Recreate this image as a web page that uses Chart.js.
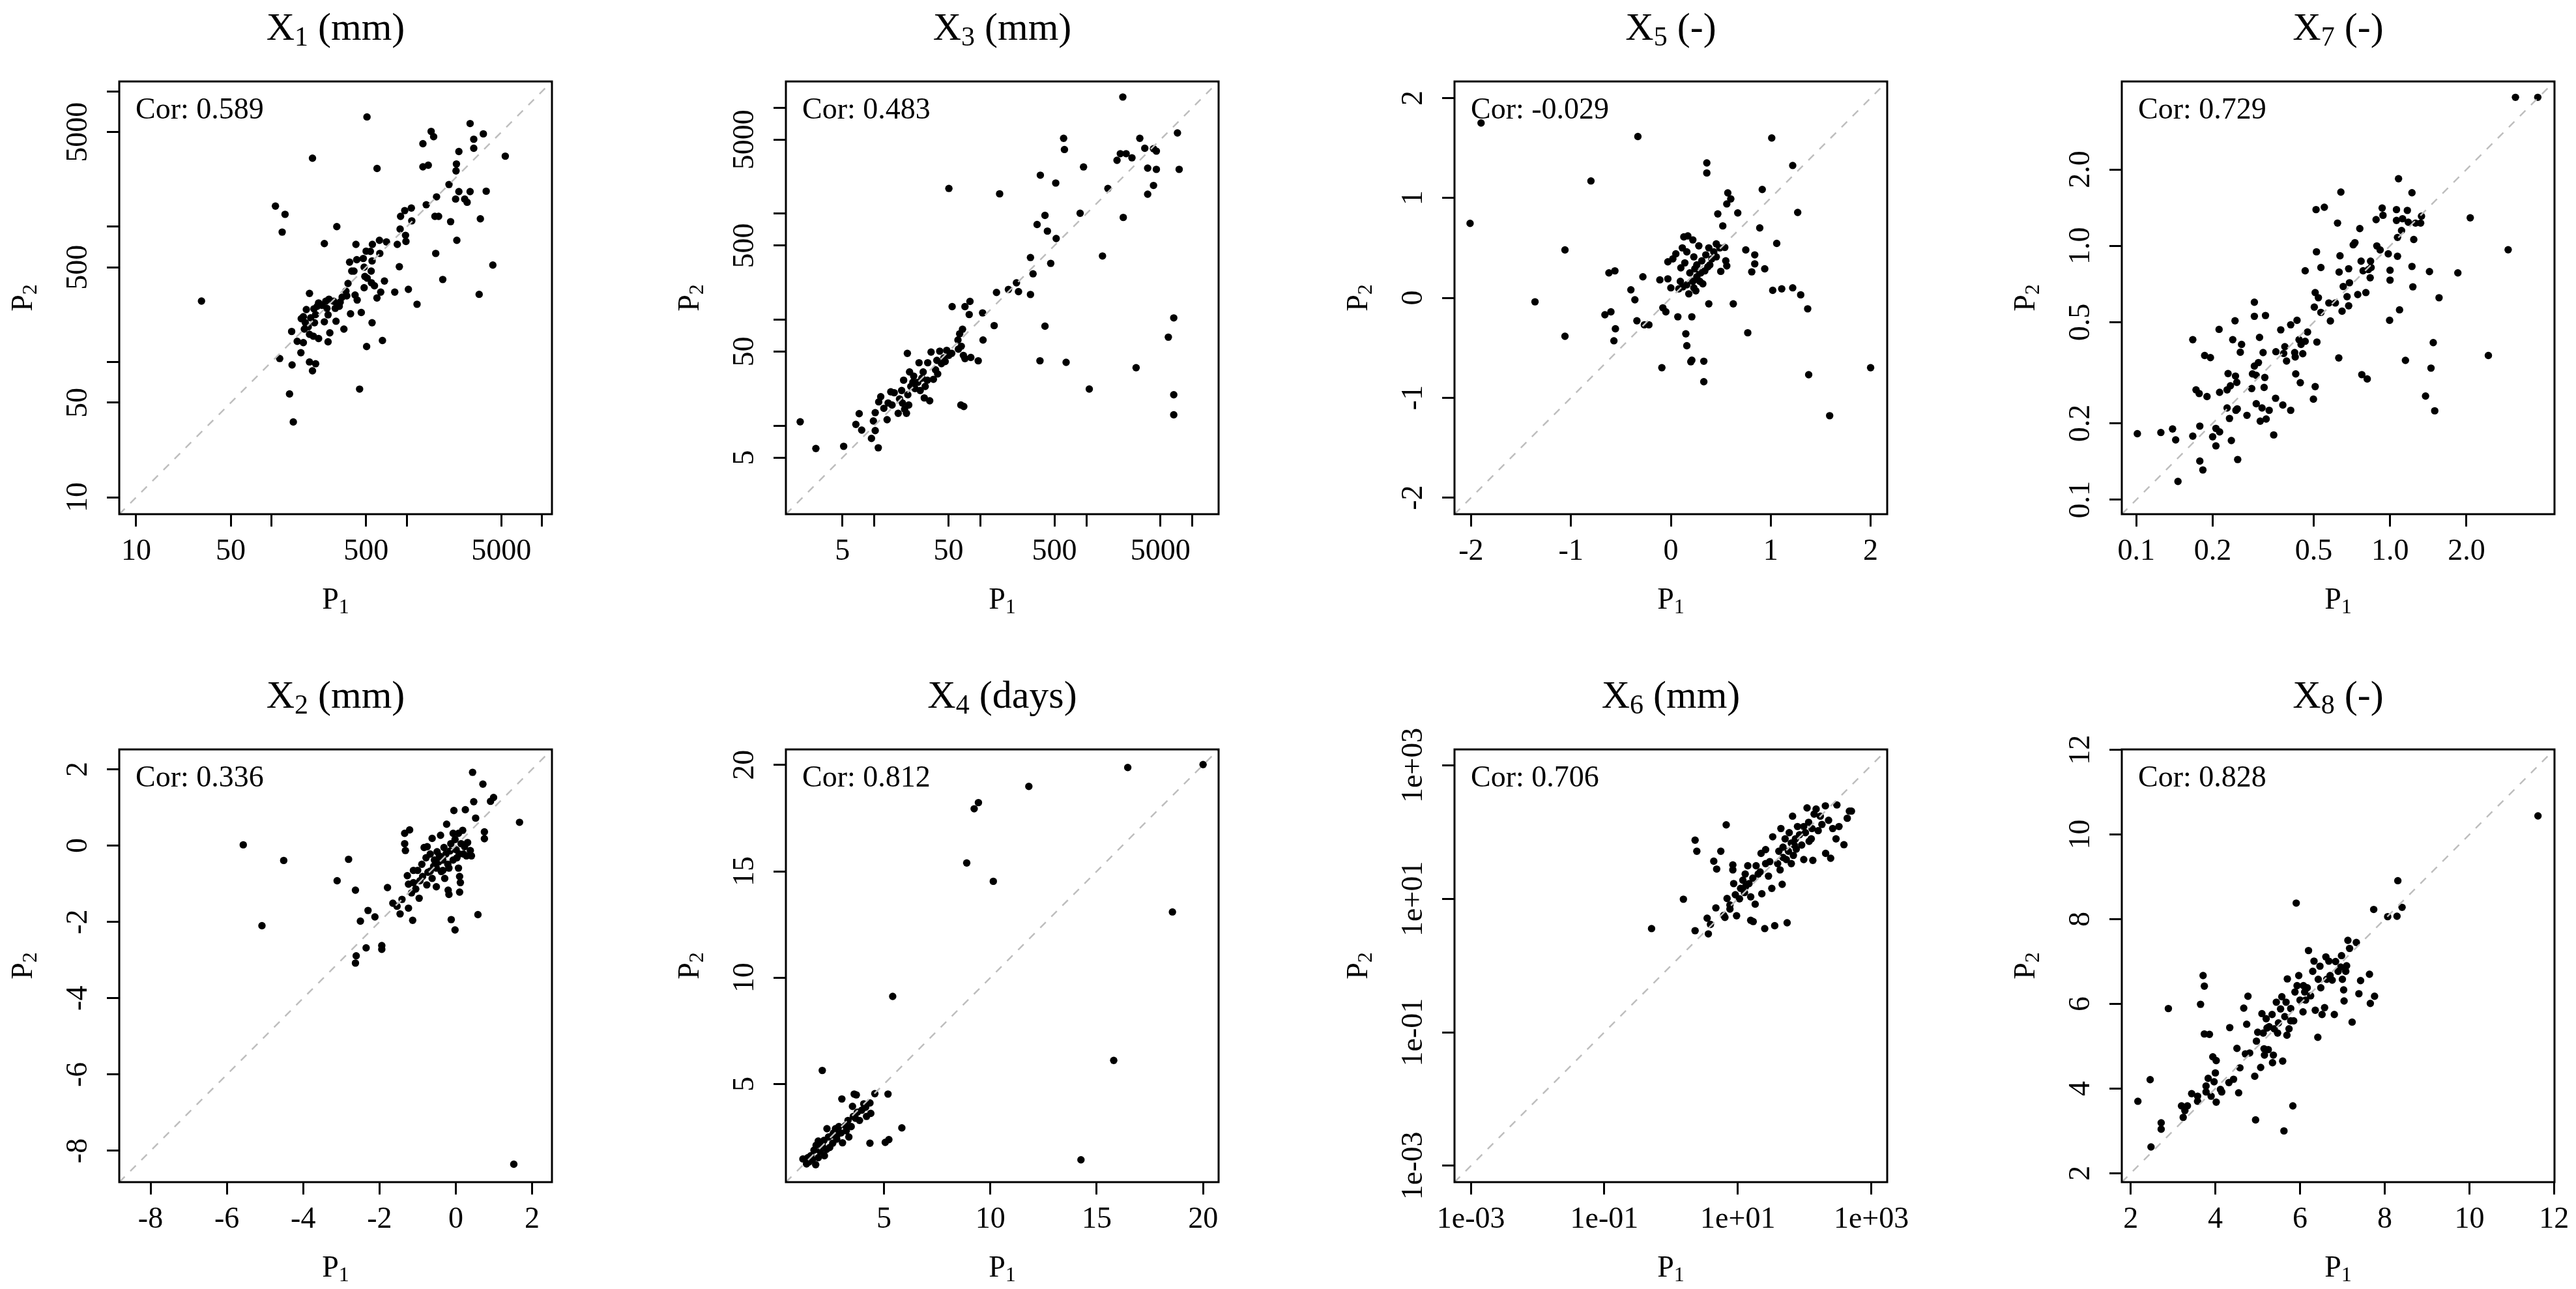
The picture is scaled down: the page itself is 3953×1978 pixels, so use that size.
<!DOCTYPE html>
<html>
<head>
<meta charset="utf-8">
<title>P1 vs P2</title>
<script src="https://cdn.jsdelivr.net/npm/chart.js@4.4.1/dist/chart.umd.min.js"></script>
<style>
  html, body { margin: 0; padding: 0; background: #fff; overflow: hidden; }
  #page { position: relative; width: 3953px; height: 1978px; background: #fff; }
  #page canvas { position: absolute; }
</style>
</head>
<body>
<div id="page"></div>
<script>
// X1 (mm)
const x1P1 = [30.4, 508, 201, 603, 107, 126, 120, 304, 246, 1514,
  1580, 1316, 2938, 3680, 3126, 3126, 2427, 5346, 1316, 1442,
  2328, 2312, 2051, 1660, 2427, 2938, 3864, 2296, 2680, 2793,
  1393, 1081, 966, 900, 1614, 1719, 3499, 1089, 2109, 893,
  979, 986, 2344, 1637, 851, 628, 708, 557, 538, 501,
  421, 632, 881, 4325, 1845, 3427, 1028, 815, 1191, 684,
  642, 602, 554, 378, 427, 477, 392, 407, 484, 546,
  490, 510, 548, 484, 577, 368, 355, 415, 430, 333,
  306, 288, 266, 252, 236, 223, 218, 206, 191, 181,
  172, 166, 178, 208, 195, 212, 246, 262, 300, 317,
  343, 384, 461, 554, 270, 223, 204, 191, 175, 172,
  155, 141, 165, 262, 661, 505, 115, 142, 191, 212,
  201, 136, 145, 448, 187, 257, 322, 296, 360];
const x1P2 = [282, 6470, 3206, 2692, 1419, 1233, 912, 1000, 750, 5058,
  4624, 4105, 5780, 4850, 4426, 3793, 3589, 3319, 2767, 2845,
  2905, 2582, 2049, 1660, 1817, 1817, 1828, 1600, 1600, 1514,
  1452, 1372, 1315, 1192, 1192, 1192, 1143, 1104, 1089, 959,
  863, 777, 793, 634, 740, 793, 771, 740, 656, 659,
  740, 634, 506, 520, 407, 316, 344, 328, 267, 396,
  328, 297, 558, 547, 570, 582, 469, 469, 502, 469,
  428, 416, 385, 354, 366, 380, 334, 312, 287, 301,
  267, 281, 291, 281, 262, 273, 258, 247, 321, 244,
  216, 209, 195, 195, 212, 224, 198, 223, 200, 258,
  175, 227, 232, 195, 164, 149, 155, 160, 175, 139,
  142, 168, 117, 141, 144, 130, 106, 95, 100, 97,
  86, 58, 36, 63, 182, 249, 277, 249, 308];
const x1Range = [7.5, 11830];
const x1Ticks = [10, 50, 100, 500, 1000, 5000, 10000];
const x1Labels = ["10", "50", "", "500", "", "5000", ""];

// X3 (mm)
const x3P1 = [2.0, 2.81, 5.14, 10.9, 9.4, 6.7, 7.2, 7.6, 9.8, 10.2,
  10.2, 11.0, 11.5, 13.2, 12.3, 14.3, 14.7, 16.8, 17.3, 18.1,
  18.9, 20.5, 19.3, 21.1, 20.7, 22.1, 21.5, 23.5, 24.2, 25.7,
  27.1, 28.1, 26.4, 29.6, 33.3, 30.2, 31.6, 31.9, 34.3, 36.1,
  37.8, 38.9, 41.4, 43.0, 45.3, 48.2, 50.5, 53.7, 50.5, 54.2,
  61.5, 63.8, 67.9, 66.1, 69.2, 65.5, 69.8, 71.6, 79.8, 78.5,
  81.3, 95.5, 105, 106, 135, 142, 152, 184, 219, 229,
  297, 297, 314, 343, 368, 407, 429, 461, 407, 365,
  519, 514, 610, 621, 644, 873, 940, 1065, 1419, 1596,
  1945, 2090, 2371, 2206, 2228, 2690, 2944, 3190, 3556, 3785,
  3785, 4297, 4297, 4571, 4571, 5930, 6668, 6668, 6668, 7228,
  7500, 15.4, 18.4, 23.1, 28.9, 39.6, 46.6, 62.1, 71.6, 13.5, 20.1];
const x3P2 = [10.9, 6.1, 6.4, 6.2, 7.6, 10.3, 13.0, 9.1, 11.1, 9.0,
  13.3, 16.8, 18.8, 11.4, 14.6, 20.9, 15.7, 13.1, 17.9, 21.5,
  26.9, 48.2, 14.3, 15.7, 19.6, 23.5, 32.2, 29.4, 22.4, 25.7,
  21.5, 28.1, 39.3, 18.3, 17.2, 23.5, 26.9, 39.3, 49.5, 27.4,
  33.7, 41.4, 50.5, 38.5, 43.6, 51.4, 46.1, 48.2, 1730, 133,
  64.3, 73.6, 81.3, 56.2, 46.1, 15.7, 15.2, 133, 149, 112,
  44.1, 41.0, 116, 64.3, 88, 181, 1540, 193, 223, 184,
  386, 173, 271, 791, 2307, 964, 685, 340, 87, 41,
  583, 1945, 5140, 4030, 39.6, 1009, 2760, 22.2, 399, 1730,
  3190, 3680, 3680, 12600, 922, 3365, 35.3, 5140, 4140, 2690,
  1528, 1846, 4100, 3893, 2618, 68.5, 104, 19.6, 12.7, 5780,
  2618, 20.5, 16.4, 25.7, 32.2, 30.8, 40.3, 52.8, 43.0, 16.4, 13.1];
const x3Range = [1.466, 17660];
const x3Ticks = [5, 10, 50, 100, 500, 1000, 5000, 10000];
const x3Labels = ["5", "", "50", "", "500", "", "5000", ""];

// X5 (-)
const x5P1 = [-2.01, -1.90, -1.36, -1.06, -1.06, -0.80, -0.66, -0.62, -0.60, -0.56,
  -0.555, -0.57, -0.40, -0.36, -0.34, -0.33, -0.28, -0.265, -0.22, -0.11,
  -0.09, -0.08, -0.05, -0.03, -0.03, 0.0, 0.02, 0.05, 0.07, 0.08,
  0.10, 0.12, 0.13, 0.14, 0.15, 0.16, 0.16, 0.17, 0.18, 0.19,
  0.20, 0.21, 0.21, 0.22, 0.22, 0.23, 0.24, 0.25, 0.26, 0.28,
  0.29, 0.30, 0.31, 0.32, 0.33, 0.33, 0.34, 0.35, 0.36, 0.36,
  0.37, 0.38, 0.38, 0.41, 0.43, 0.455, 0.47, 0.49, 0.50, 0.52,
  0.54, 0.55, 0.56, 0.56, 0.57, 0.60, 0.625, 0.67, 0.75, 0.77,
  0.81, 0.84, 0.84, 0.89, 0.915, 0.94, 1.01, 1.02, 1.06, 1.11,
  1.22, 1.22, 1.27, 1.30, 1.37, 1.38, 1.59, 2.00, 0.095, 0.16,
  0.23, 0.29, 0.39, 0.455, 0.26, 0.115];
const x5P2 = [0.745, 1.75, -0.04, 0.48, -0.385, 1.17, -0.17, 0.25, -0.14, 0.27,
  -0.31, -0.43, 0.08, -0.02, -0.23, 1.615, 0.21, -0.27, -0.27, 0.18,
  -0.70, -0.10, -0.14, 0.36, 0.19, 0.10, 0.39, 0.44, -0.19, 0.09,
  0.30, 0.11, 0.61, 0.35, -0.36, -0.48, 0.46, 0.62, 0.04, 0.25,
  -0.64, -0.625, -0.19, 0.165, 0.58, 0.41, 0.29, 0.07, 0.33, 0.52,
  0.165, 0.25, 0.37, 0.14, -0.635, -0.84, 0.27, 0.43, 1.35, 1.25,
  0.31, 0.50, -0.06, 0.39, 0.46, 0.54, 0.84, 0.50, 0.265, 0.72,
  0.505, 0.37, 0.32, 0.94, 1.05, 0.99, -0.06, 0.85, 0.48, -0.35,
  0.26, 0.34, 0.43, 0.70, 1.085, 0.29, 1.60, 0.075, 0.545, 0.09,
  1.325, 0.10, 0.855, 0.03, -0.11, -0.77, -1.18, -0.70, 0.165, 0.13,
  0.10, 0.25, 0.33, 0.41, 0.21, 0.50];
const x5Range = [-2.166, 2.166];
const x5Ticks = [-2, -1, 0, 1, 2];
const x5Labels = ["-2", "-1", "0", "1", "2"];

// X7 (-)
const x7P1 = [0.101, 0.125, 0.139, 0.143, 0.146, 0.167, 0.167, 0.172, 0.177, 0.178,
  0.178, 0.183, 0.186, 0.196, 0.190, 0.200, 0.206, 0.206, 0.213, 0.212,
  0.213, 0.228, 0.230, 0.228, 0.233, 0.235, 0.237, 0.240, 0.245, 0.246,
  0.249, 0.247, 0.250, 0.251, 0.257, 0.260, 0.273, 0.285, 0.287, 0.292,
  0.292, 0.292, 0.297, 0.297, 0.303, 0.306, 0.308, 0.313, 0.316, 0.319,
  0.321, 0.323, 0.325, 0.334, 0.348, 0.354, 0.355, 0.371, 0.378, 0.381,
  0.385, 0.391, 0.406, 0.406, 0.421, 0.423, 0.425, 0.430, 0.438, 0.443,
  0.446, 0.453, 0.463, 0.463, 0.473, 0.499, 0.507, 0.503, 0.507, 0.511,
  0.515, 0.513, 0.522, 0.534, 0.534, 0.551, 0.574, 0.582, 0.609, 0.621,
  0.628, 0.630, 0.635, 0.640, 0.647, 0.654, 0.677, 0.687, 0.687, 0.692,
  0.716, 0.727, 0.746, 0.760, 0.769, 0.774, 0.783, 0.803, 0.813, 0.822,
  0.835, 0.838, 0.842, 0.881, 0.887, 0.914, 0.931, 0.938, 0.984, 1.0,
  1.0, 0.996, 1.06, 1.06, 1.07, 1.07, 1.08, 1.09, 1.11, 1.12,
  1.15, 1.17, 1.18, 1.22, 1.22, 1.23, 1.24, 1.26, 1.32, 1.33,
  1.38, 1.43, 1.45, 1.48, 1.50, 1.56, 1.85, 2.07, 2.44, 2.92, 3.12, 3.82];
const x7P2 = [0.182, 0.184, 0.190, 0.172, 0.118, 0.178, 0.427, 0.271, 0.262, 0.195,
  0.142, 0.131, 0.370, 0.363, 0.255, 0.177, 0.191, 0.163, 0.185, 0.469,
  0.265, 0.271, 0.314, 0.230, 0.209, 0.281, 0.171, 0.427, 0.507, 0.307,
  0.290, 0.225, 0.228, 0.144, 0.381, 0.409, 0.215, 0.274, 0.313, 0.600,
  0.528, 0.336, 0.309, 0.239, 0.347, 0.436, 0.204, 0.230, 0.380, 0.277,
  0.303, 0.532, 0.208, 0.225, 0.180, 0.251, 0.383, 0.467, 0.236, 0.377,
  0.401, 0.352, 0.489, 0.225, 0.380, 0.365, 0.313, 0.509, 0.427, 0.289,
  0.409, 0.376, 0.421, 0.798, 0.458, 0.249, 0.279, 0.574, 0.655, 1.39,
  0.418, 0.948, 0.625, 0.822, 0.547, 1.42, 0.596, 0.506, 0.596, 1.23,
  0.362, 0.789, 0.914, 1.63, 0.553, 0.692, 0.631, 0.581, 0.813, 0.716,
  1.01, 1.03, 0.643, 1.17, 0.871, 0.311, 0.798, 0.655, 0.299, 0.807,
  0.749, 0.871, 0.822, 1.27, 1.00, 0.964, 1.41, 1.32, 0.931, 0.802,
  0.733, 0.509, 1.26, 1.39, 0.910, 1.08, 1.84, 0.560, 1.15, 1.28,
  0.354, 1.38, 1.24, 1.62, 0.830, 0.690, 1.06, 1.23, 1.23, 1.31,
  0.256, 0.792, 0.330, 0.416, 0.224, 0.625, 0.783, 1.29, 0.370, 0.966, 3.85, 3.85];
const x7Range = [0.0877, 4.446];
const x7Ticks = [0.1, 0.2, 0.5, 1, 2];
const x7Labels = ["0.1", "0.2", "0.5", "1.0", "2.0"];

// X2 (mm)
const x2P1 = [-5.57, -5.08, -4.51, -3.11, -2.81, -2.63, -2.61, -2.63, -2.50, -2.35,
  -2.30, -2.12, -1.94, -1.94, -1.79, -1.65, -1.54, -1.46, -1.41, -1.34,
  -1.34, -1.32, -1.21, -1.27, -1.24, -1.24, -1.13, -1.11, -1.05, -0.96,
  -0.94, -0.87, -0.83, -0.76, -0.75, -0.67, -0.62, -0.58, -0.51, -0.49,
  -0.45, -0.38, -0.31, -0.24, -0.21, -0.20, -0.18, -0.15, -0.12, -0.05,
  -0.02, -0.02, 0.03, 0.07, 0.10, 0.10, 0.12, 0.18, 0.23, 0.25,
  0.38, 0.47, 0.44, 0.52, 0.58, 0.71, 0.75, 0.75, 0.91, 0.99,
  1.52, 1.67, -1.11, -1.00, -0.89, -0.78, -0.67, -0.56, -0.43, -0.34,
  -0.26, -0.13, -0.07, 0.01, 0.09, 0.14, 0.20, 0.31, 0.28, -0.40,
  -0.51, -0.62, -0.73, -1.16, -0.34, -0.18, -0.07, 0.07, 0.41, -0.29];
const x2P2 = [0.02, -2.10, -0.39, -0.92, -0.36, -1.17, -2.89, -3.08, -1.98, -2.68,
  -1.70, -1.87, -2.62, -2.72, -1.10, -1.51, -1.59, -1.79, -1.41, 0.32,
  0.05, -0.13, 0.41, -0.79, -1.01, -1.64, -1.96, -0.65, -1.14, -1.38,
  -0.92, -0.81, -0.05, -1.03, -0.03, -0.67, 0.19, -0.54, -1.08, -0.16,
  -0.43, -0.68, -0.05, 0.56, -0.49, -1.17, -1.28, -0.14, -1.94, 0.92,
  0.16, -2.21, -0.32, 0.32, -0.81, -1.22, -0.97, 0.40, -0.03, 0.94,
  -0.13, 1.15, 1.92, 0.72, -1.81, 1.61, 0.36, 0.18, 1.16, 1.26,
  -8.35, 0.61, -0.97, -0.65, -0.49, -0.32, -0.22, -0.38, -0.27, -0.38,
  -0.22, 0.05, -0.38, -0.11, -0.22, 0.05, -0.22, 0.08, -0.27, 0.27,
  -0.59, -0.86, -0.70, -1.24, -0.65, -0.59, 0.32, -0.59, -0.27, -0.86];
const x2Range = [-8.82, 2.52];
const x2Ticks = [-8, -6, -4, -2, 0, 2];
const x2Labels = ["-8", "-6", "-4", "-2", "0", "2"];

// X4 (days)
const x4P1 = [20.0, 16.46, 11.81, 9.44, 9.24, 8.89, 10.14, 18.56, 5.41, 15.80,
  2.10, 14.26, 5.84, 5.19, 4.57, 5.23, 5.06, 4.34, 4.38, 4.34,
  4.18, 3.70, 3.60, 3.02, 3.52, 3.05, 3.35, 3.31, 3.19, 2.88,
  2.63, 2.80, 2.32, 2.39, 2.59, 2.10, 1.91, 2.00, 1.71, 1.63,
  1.79, 1.48, 1.36, 1.19, 2.20, 3.56, 3.75, 3.95, 4.05, 3.85,
  3.46, 2.78, 2.45, 2.59, 2.30, 1.91, 1.56, 2.98, 3.23, 3.66,
  4.14, 2.72, 1.81, 1.42, 2.18];
const x4P2 = [20.02, 19.88, 18.99, 18.23, 17.94, 15.39, 14.53, 13.09, 9.12, 6.11,
  5.64, 1.44, 2.94, 4.53, 4.55, 2.39, 2.26, 2.22, 3.62, 4.11,
  3.48, 4.49, 4.53, 4.30, 3.95, 2.24, 2.51, 3.29, 3.05, 3.00,
  2.70, 2.61, 2.90, 2.51, 2.22, 2.12, 2.32, 1.83, 1.89, 1.44,
  1.21, 1.34, 1.25, 1.48, 1.63, 3.48, 3.68, 3.77, 4.07, 3.29,
  3.00, 2.41, 2.02, 2.61, 1.93, 1.54, 1.63, 2.70, 2.80, 3.39,
  3.91, 2.90, 2.12, 1.54, 2.35];
const x4Range = [0.39, 20.73];
const x4Ticks = [5, 10, 15, 20];
const x4Labels = ["5", "10", "15", "20"];

// X6 (mm)
const x6P1 = [0.51, 1.53, 2.29, 2.29, 2.43, 3.47, 3.62, 3.89, 4.36, 4.82,
  4.69, 5.56, 6.15, 6.70, 6.90, 6.41, 7.62, 8.42, 8.42, 8.67,
  9.18, 9.58, 11.0, 11.9, 12.6, 12.9, 14.1, 14.7, 15.6, 17.0,
  15.6, 16.8, 18.2, 18.8, 20.2, 22.3, 22.9, 25.3, 26.1, 26.1,
  28.8, 32.3, 33.3, 35.7, 39.5, 44.2, 43.0, 46.2, 47.5, 51.1,
  54.8, 53.3, 57.3, 58.9, 63.3, 66.1, 68.0, 73.0, 75.1, 78.4,
  84.1, 90.5, 97.2, 103, 109, 115, 126, 133, 139, 149,
  160, 172, 182, 205, 229, 246, 264, 296, 328, 389,
  305, 436, 469, 504, 207, 129, 97.2, 70.0, 41.2, 30.1,
  21.6, 13.1, 10.6, 7.62, 63.3, 47.5, 117];
const x6P2 = [3.58, 9.86, 3.33, 75.7, 51.5, 5.12, 2.98, 4.13, 36.6, 27.9,
  7.31, 51.5, 5.65, 128, 10.1, 5.26, 7.0, 32.2, 27.1, 16.9,
  11.5, 5.57, 14.3, 19.0, 12.4, 23.5, 31.3, 16.9, 4.76, 4.56,
  10.7, 20.4, 8.32, 31.3, 23.5, 48.0, 11.9, 3.58, 33.6, 54.6,
  21.9, 14.3, 84.9, 3.96, 33.6, 113, 27.1, 16.5, 59.4, 79.0,
  4.38, 38.7, 51.5, 98.0, 68.5, 173, 44.7, 79.0, 55.4, 121,
  91.2, 63.8, 38.7, 98.0, 230, 140, 79.0, 37.7, 186, 221,
  105, 173, 130, 247, 150, 40.5, 113, 79.0, 121, 64.7,
  255, 161, 206, 206, 48.0, 113, 121, 63.8, 51.5, 36.1,
  25.3, 15.3, 10.0, 8.07, 33.6, 41.6, 72.6];
const x6Range = [0.000569, 1730];
const x6Ticks = [0.001, 0.1, 10, 1000];
const x6Labels = ["1e-03", "1e-01", "1e+01", "1e+03"];

// X8 (-)
const x8P1 = [2.17, 2.46, 2.48, 2.72, 2.72, 2.89, 3.20, 3.24, 3.28, 3.34,
  3.44, 3.58, 3.58, 3.65, 3.71, 3.74, 3.74, 3.78, 3.78, 3.86,
  3.83, 3.90, 3.94, 3.97, 4.00, 4.02, 4.02, 4.12, 4.15, 4.32,
  4.34, 4.43, 4.51, 4.55, 4.58, 4.67, 4.71, 4.74, 4.77, 4.81,
  4.93, 4.95, 4.97, 5.00, 5.07, 5.10, 5.13, 5.15, 5.16, 5.20,
  5.22, 5.25, 5.27, 5.34, 5.35, 5.37, 5.44, 5.47, 5.49, 5.54,
  5.57, 5.59, 5.62, 5.64, 5.67, 5.69, 5.70, 5.74, 5.78, 5.83,
  5.85, 5.88, 5.91, 5.93, 5.97, 6.00, 6.07, 6.08, 6.11, 6.13,
  6.17, 6.20, 6.25, 6.30, 6.33, 6.36, 6.42, 6.43, 6.47, 6.49,
  6.52, 6.58, 6.61, 6.63, 6.68, 6.71, 6.76, 6.81, 6.84, 6.90,
  6.98, 7.00, 7.03, 7.04, 7.08, 7.10, 7.13, 7.17, 7.23, 7.33,
  7.39, 7.43, 7.64, 7.66, 7.74, 7.76, 8.07, 8.29, 8.31, 8.41,
  11.62, 5.39, 5.78, 6.96];
const x8P2 = [3.70, 4.21, 2.62, 3.19, 3.04, 5.89, 3.59, 3.32, 3.48, 3.59,
  3.88, 3.82, 3.70, 5.99, 6.67, 6.42, 5.29, 4.06, 3.92, 5.28,
  4.24, 3.82, 4.75, 4.16, 4.37, 4.66, 3.68, 3.98, 3.92, 4.14,
  5.44, 4.22, 4.95, 3.90, 4.49, 5.90, 4.82, 5.52, 6.18, 4.84,
  4.29, 3.26, 5.12, 5.33, 4.50, 5.77, 5.31, 4.94, 4.79, 5.65,
  5.43, 4.92, 5.46, 5.75, 4.61, 4.79, 6.04, 5.31, 5.55, 5.88,
  6.17, 4.65, 3.00, 5.70, 6.04, 5.26, 6.59, 5.41, 5.60, 3.59,
  5.60, 6.28, 8.38, 6.43, 6.67, 6.09, 5.81, 6.43, 6.28, 6.09,
  6.38, 7.26, 6.19, 6.77, 7.01, 5.85, 5.21, 6.58, 6.89, 6.38,
  5.75, 5.91, 7.11, 6.58, 7.01, 6.67, 6.56, 5.75, 7.00, 6.77,
  7.14, 6.58, 6.33, 6.07, 6.77, 6.90, 7.50, 7.31, 5.57, 7.45,
  6.24, 6.55, 6.70, 6.01, 8.23, 6.18, 8.06, 8.07, 8.91, 8.28,
  10.44, 5.41, 5.89, 6.87];
const x8Range = [1.79, 12.01];
const x8Ticks = [2, 4, 6, 8, 10, 12];
const x8Labels = ["2", "4", "6", "8", "10", "12"];

// ---- layout ----
const FONT = "'Liberation Serif', 'Times New Roman', serif";
const BOX = 664;
const COL_X = [183, 1206, 2232, 3256];
const ROW_Y = [125, 1150];
const PAD_L = 180, PAD_T = 125, PAD_R = 40, PAD_B = 165;

const panels = [
  { main: ["X", "1", " (mm)"], cor: "Cor: 0.589", p1: x1P1, p2: x1P2, log: true, range: x1Range, ticks: x1Ticks, labels: x1Labels, col: 0, row: 0 },
  { main: ["X", "3", " (mm)"], cor: "Cor: 0.483", p1: x3P1, p2: x3P2, log: true, range: x3Range, ticks: x3Ticks, labels: x3Labels, col: 1, row: 0 },
  { main: ["X", "5", " (-)"], cor: "Cor: -0.029", p1: x5P1, p2: x5P2, log: false, range: x5Range, ticks: x5Ticks, labels: x5Labels, col: 2, row: 0 },
  { main: ["X", "7", " (-)"], cor: "Cor: 0.729", p1: x7P1, p2: x7P2, log: true, range: x7Range, ticks: x7Ticks, labels: x7Labels, col: 3, row: 0 },
  { main: ["X", "2", " (mm)"], cor: "Cor: 0.336", p1: x2P1, p2: x2P2, log: false, range: x2Range, ticks: x2Ticks, labels: x2Labels, col: 0, row: 1 },
  { main: ["X", "4", " (days)"], cor: "Cor: 0.812", p1: x4P1, p2: x4P2, log: false, range: x4Range, ticks: x4Ticks, labels: x4Labels, col: 1, row: 1 },
  { main: ["X", "6", " (mm)"], cor: "Cor: 0.706", p1: x6P1, p2: x6P2, log: true, range: x6Range, ticks: x6Ticks, labels: x6Labels, col: 2, row: 1 },
  { main: ["X", "8", " (-)"], cor: "Cor: 0.828", p1: x8P1, p2: x8P2, log: false, range: x8Range, ticks: x8Ticks, labels: x8Labels, col: 3, row: 1 },
];

// text with a plotmath-like subscript as the second part
function drawSubText(ctx, parts, x, y, size) {
  const seg = parts.map((t, i) => ({ t, sub: i === 1, f: i === 1 ? size * 0.7 : size }));
  let w = 0;
  seg.forEach((s) => {
    ctx.font = s.f + "px " + FONT;
    s.w = ctx.measureText(s.t).width;
    w += s.w;
  });
  let cx = x - w / 2;
  seg.forEach((s) => {
    ctx.font = s.f + "px " + FONT;
    ctx.fillText(s.t, cx, s.sub ? y + size * 0.15 : y);
    cx += s.w;
  });
}

function decor(p) {
  return {
    id: "decor",
    afterDraw(chart) {
      const { ctx, chartArea: a } = chart;
      const ys = chart.scales.y;
      ctx.save();
      ctx.fillStyle = "#000";
      ctx.strokeStyle = "#000";
      ctx.lineWidth = 3;
      ctx.strokeRect(a.left, a.top, a.right - a.left, a.bottom - a.top);

      // y tick labels run along the axis, like R's las = 0
      ctx.font = "46px " + FONT;
      ctx.textAlign = "center";
      ctx.textBaseline = "middle";
      p.ticks.forEach((v, i) => {
        if (!p.labels[i]) return;
        ctx.save();
        ctx.translate(a.left - 62, ys.getPixelForValue(v));
        ctx.rotate(-Math.PI / 2);
        ctx.fillText(p.labels[i], 0, 0);
        ctx.restore();
      });

      ctx.textAlign = "left";
      ctx.textBaseline = "alphabetic";
      drawSubText(ctx, p.main, (a.left + a.right) / 2, a.top - 64, 60);
      ctx.font = "46px " + FONT;
      ctx.fillText(p.cor, a.left + 25, a.top + 57);

      drawSubText(ctx, ["P", "1"], (a.left + a.right) / 2, a.bottom + 145, 46);
      ctx.translate(a.left - 134, (a.top + a.bottom) / 2);
      ctx.rotate(-Math.PI / 2);
      drawSubText(ctx, ["P", "2"], 0, 0, 46);
      ctx.restore();
    },
  };
}

function axis(p, isX) {
  return {
    type: p.log ? "logarithmic" : "linear",
    position: isX ? "bottom" : "left",
    min: p.range[0],
    max: p.range[1],
    bounds: "data",
    afterBuildTicks: (s) => {
      s.ticks = p.ticks.map((v) => ({ value: v }));
    },
    afterFit: (s) => {
      if (isX) {
        s.height = PAD_B;
        s.paddingLeft = 0;
        s.paddingRight = 0;
      } else {
        s.width = PAD_L;
        s.paddingTop = 0;
        s.paddingBottom = 0;
      }
    },
    ticks: {
      display: isX,
      autoSkip: false,
      maxRotation: 0,
      minRotation: 0,
      padding: 11,
      color: "#000",
      font: { family: FONT, size: 46 },
      callback: (v, i) => p.labels[i],
    },
    grid: {
      drawOnChartArea: false,
      drawTicks: true,
      tickLength: 19,
      tickWidth: 3,
      tickColor: "#000",
      color: "#000",
      lineWidth: 3,
    },
    border: { display: false },
  };
}

const page = document.getElementById("page");

panels.forEach((p) => {
  const canvas = document.createElement("canvas");
  const w = PAD_L + BOX + PAD_R;
  const h = PAD_T + BOX + PAD_B;
  canvas.width = w;
  canvas.height = h;
  canvas.style.left = COL_X[p.col] - PAD_L + "px";
  canvas.style.top = ROW_Y[p.row] - PAD_T + "px";
  canvas.style.width = w + "px";
  canvas.style.height = h + "px";
  page.appendChild(canvas);

  new Chart(canvas.getContext("2d"), {
    type: "scatter",
    data: {
      datasets: [
        {
          // 1:1 line
          data: [{ x: p.range[0], y: p.range[0] }, { x: p.range[1], y: p.range[1] }],
          showLine: true,
          borderColor: "#BEBEBE",
          borderWidth: 2.5,
          borderDash: [12, 12],
          pointRadius: 0,
          fill: false,
        },
        {
          data: p.p1.map((v, i) => ({ x: v, y: p.p2[i] })),
          pointRadius: 5.7,
          pointBackgroundColor: "#000",
          pointBorderWidth: 0,
          showLine: false,
        },
      ],
    },
    options: {
      responsive: false,
      animation: false,
      events: [],
      devicePixelRatio: 1,
      layout: { padding: { top: PAD_T, right: PAD_R, left: 0, bottom: 0 } },
      plugins: {
        legend: { display: false },
        tooltip: { enabled: false },
        title: { display: false },
      },
      scales: {
        x: axis(p, true),
        y: axis(p, false),
      },
    },
    plugins: [decor(p)],
  });
});
</script>
</body>
</html>
